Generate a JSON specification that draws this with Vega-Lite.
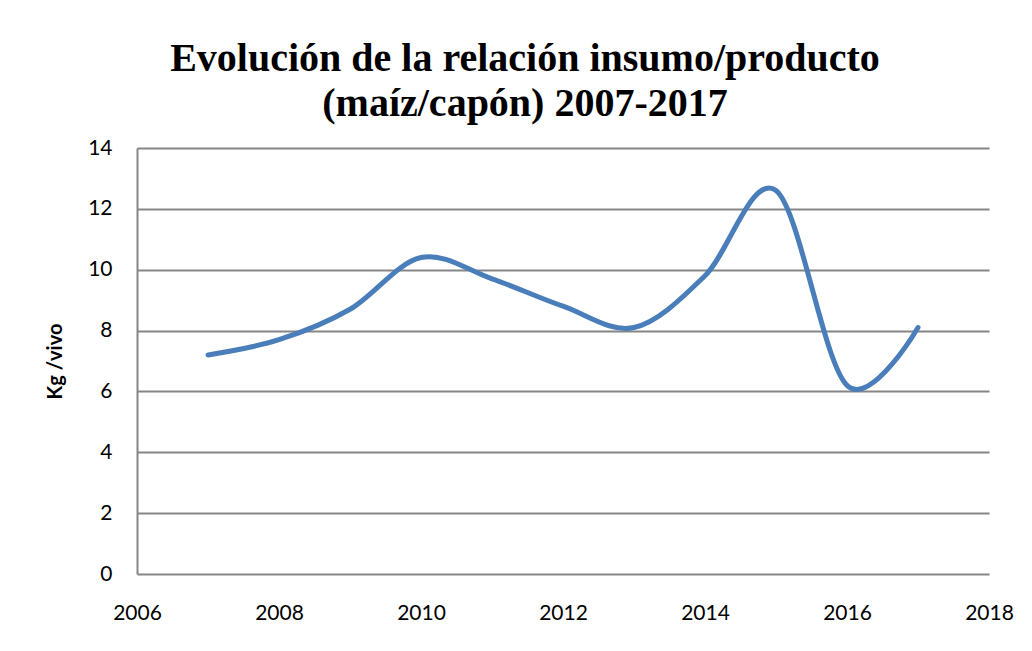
{
  "$schema": "https://vega.github.io/schema/vega-lite/v6.json",
  "autosize": "none",
  "width": 852,
  "height": 426,
  "padding": {"left": 137, "top": 148, "right": 43, "bottom": 77},
  "background": "white",
  "title": {
    "text": ["Evolución de la relación insumo/producto", "(maíz/capón) 2007-2017"],
    "font": "Liberation Serif",
    "fontSize": 40,
    "fontWeight": "bold",
    "color": "black",
    "anchor": "middle",
    "dx": -38,
    "offset": 13,
    "lineHeight": 45
  },
  "data": {
    "values": [
      {"year": 2007, "value": 7.2},
      {"year": 2008, "value": 7.7},
      {"year": 2009, "value": 8.7},
      {"year": 2010, "value": 10.4},
      {"year": 2011, "value": 9.7},
      {"year": 2012, "value": 8.8},
      {"year": 2013, "value": 8.1},
      {"year": 2014, "value": 9.8},
      {"year": 2015, "value": 12.6},
      {"year": 2016, "value": 6.2},
      {"year": 2017, "value": 8.1}
    ]
  },
  "mark": {"type": "line", "interpolate": "cardinal", "color": "#4a7ebb", "strokeWidth": 5, "strokeCap": "round"},
  "encoding": {
    "x": {
      "field": "year",
      "type": "quantitative",
      "scale": {"domain": [2006, 2018], "nice": false, "zero": false},
      "axis": {
        "title": null,
        "values": [2006, 2008, 2010, 2012, 2014, 2016, 2018],
        "format": "d",
        "grid": false,
        "domain": false,
        "ticks": false,
        "labelFlush": false,
        "labelPadding": 28,
        "labelFont": "Lato",
        "labelFontSize": 21,
        "labelColor": "black"
      }
    },
    "y": {
      "field": "value",
      "type": "quantitative",
      "scale": {"domain": [0, 14], "nice": false},
      "axis": {
        "title": "Kg /vivo",
        "titleFont": "Lato",
        "titleFontSize": 20,
        "titleFontWeight": "bold",
        "titleColor": "black",
        "titlePadding": 22,
        "values": [0, 2, 4, 6, 8, 10, 12, 14],
        "grid": true,
        "gridColor": "#868686",
        "gridWidth": 2,
        "domain": true,
        "domainColor": "#868686",
        "domainWidth": 2,
        "ticks": false,
        "labelFlush": false,
        "labelPadding": 25,
        "labelFont": "Lato",
        "labelFontSize": 21,
        "labelColor": "black"
      }
    }
  },
  "config": {"view": {"stroke": null}}
}
